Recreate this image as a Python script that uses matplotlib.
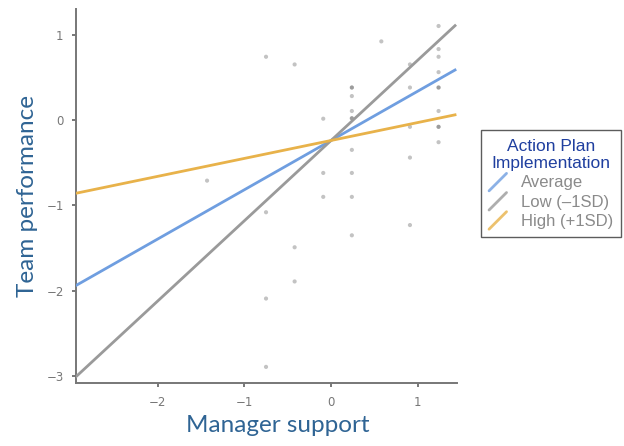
import matplotlib
matplotlib.use("Agg")
import matplotlib.pyplot as plt
from matplotlib.legend_handler import HandlerBase
from matplotlib.lines import Line2D
import numpy as np

# scatter data (manager support, team performance); repeats show as darker dots
support = [-0.75, -0.42, 0.58, 1.24, 1.24, 1.24, 0.91, 1.24, 0.91, 1.24, 1.24,
           0.24, 0.24, 0.24, 0.24, 0.24, 0.24, -0.09, 1.24, 0.91, 1.24, 1.24,
           1.24, 0.24, 0.91, -0.09, 0.24, -0.09, 0.24, -1.43, -0.75, -0.42,
           0.24, 0.91, -0.42, -0.75, -0.75]
performance = [0.74, 0.65, 0.92, 1.10, 0.83, 0.74, 0.65, 0.56, 0.38, 0.38, 0.38,
               0.38, 0.38, 0.28, 0.105, 0.02, 0.02, 0.015, 0.105, -0.08, -0.08, -0.08,
               -0.26, -0.35, -0.44, -0.62, -0.62, -0.90, -0.90, -0.71, -1.08, -1.49,
               -1.35, -1.23, -1.89, -2.09, -2.89]

# simple slopes
intercept = -0.24
series = ['Average', 'Low (\u20131SD)', 'High (+1SD)']
slopes = [0.577, 0.94, 0.21]
colors = ['#6f9ee0', '#9a9a9a', '#e8b24a']
x_range = [-2.94, 1.43]


class DiagHandler(HandlerBase):
    def create_artists(self, legend, orig_handle, xdescent, ydescent,
                       width, height, fontsize, trans):
        ln = Line2D([0, width * 0.75], [-0.3 * height, 1.2 * height],
                    color=orig_handle.get_color(), lw=2, alpha=0.8,
                    transform=trans, solid_capstyle='round')
        return [ln]


fig = plt.figure(figsize=(6.24, 4.46), dpi=100)
ax = fig.add_axes([0.122, 0.141, 0.61, 0.839])

ax.scatter(support, performance, s=9, color='#555555', alpha=0.35,
           edgecolors='none', zorder=2)

xs = np.array(x_range)
handles = []
for name, k, c in zip(series, slopes, colors):
    h, = ax.plot(xs, intercept + k * xs, color=c, lw=2, label=name, zorder=3)
    handles.append(h)

ax.set_xlim(-2.94, 1.45)
ax.set_ylim(-3.08, 1.3)
ax.set_xticks([-2, -1, 0, 1])
ax.set_yticks([-3, -2, -1, 0, 1])
ax.set_xticklabels(['\u22122', '\u22121', '0', '1'])
ax.set_yticklabels(['\u22123', '\u22122', '\u22121', '0', '1'])
for s in ['top', 'right']:
    ax.spines[s].set_visible(False)
for s in ['left', 'bottom']:
    ax.spines[s].set_color('#777777')
    ax.spines[s].set_linewidth(1.4)
ax.tick_params(colors='#777777', labelcolor='#777777', labelsize=8.5,
               length=3, width=1.4, pad=6)

lab_color = '#2f6494'
ax.set_xlabel('Manager support', fontsize=17.5, color=lab_color,
              family='Lato', labelpad=6)
ax.xaxis.set_label_coords(0.53, -0.085)
ax.set_ylabel('Team performance', fontsize=17.5, color=lab_color,
              family='Lato', labelpad=6)

leg = fig.legend(handles=handles, labels=series,
                 handler_map={Line2D: DiagHandler()},
                 title='Action Plan\nImplementation',
                 loc='center left', bbox_to_anchor=(0.757, 0.588),
                 prop={'family': 'Liberation Sans', 'size': 12},
                 title_fontproperties={'family': 'Liberation Sans', 'size': 12.5},
                 frameon=True, fancybox=False, edgecolor='#333333',
                 handlelength=1.4, handletextpad=0.5, labelspacing=0.25,
                 borderpad=0.5)
leg.get_frame().set_linewidth(1.0)
leg.get_title().set_color('#1f3f9f')
leg.get_title().set_multialignment('center')
for t in leg.get_texts():
    t.set_color('#8a8a8a')

fig.savefig('out.png', dpi=100)
